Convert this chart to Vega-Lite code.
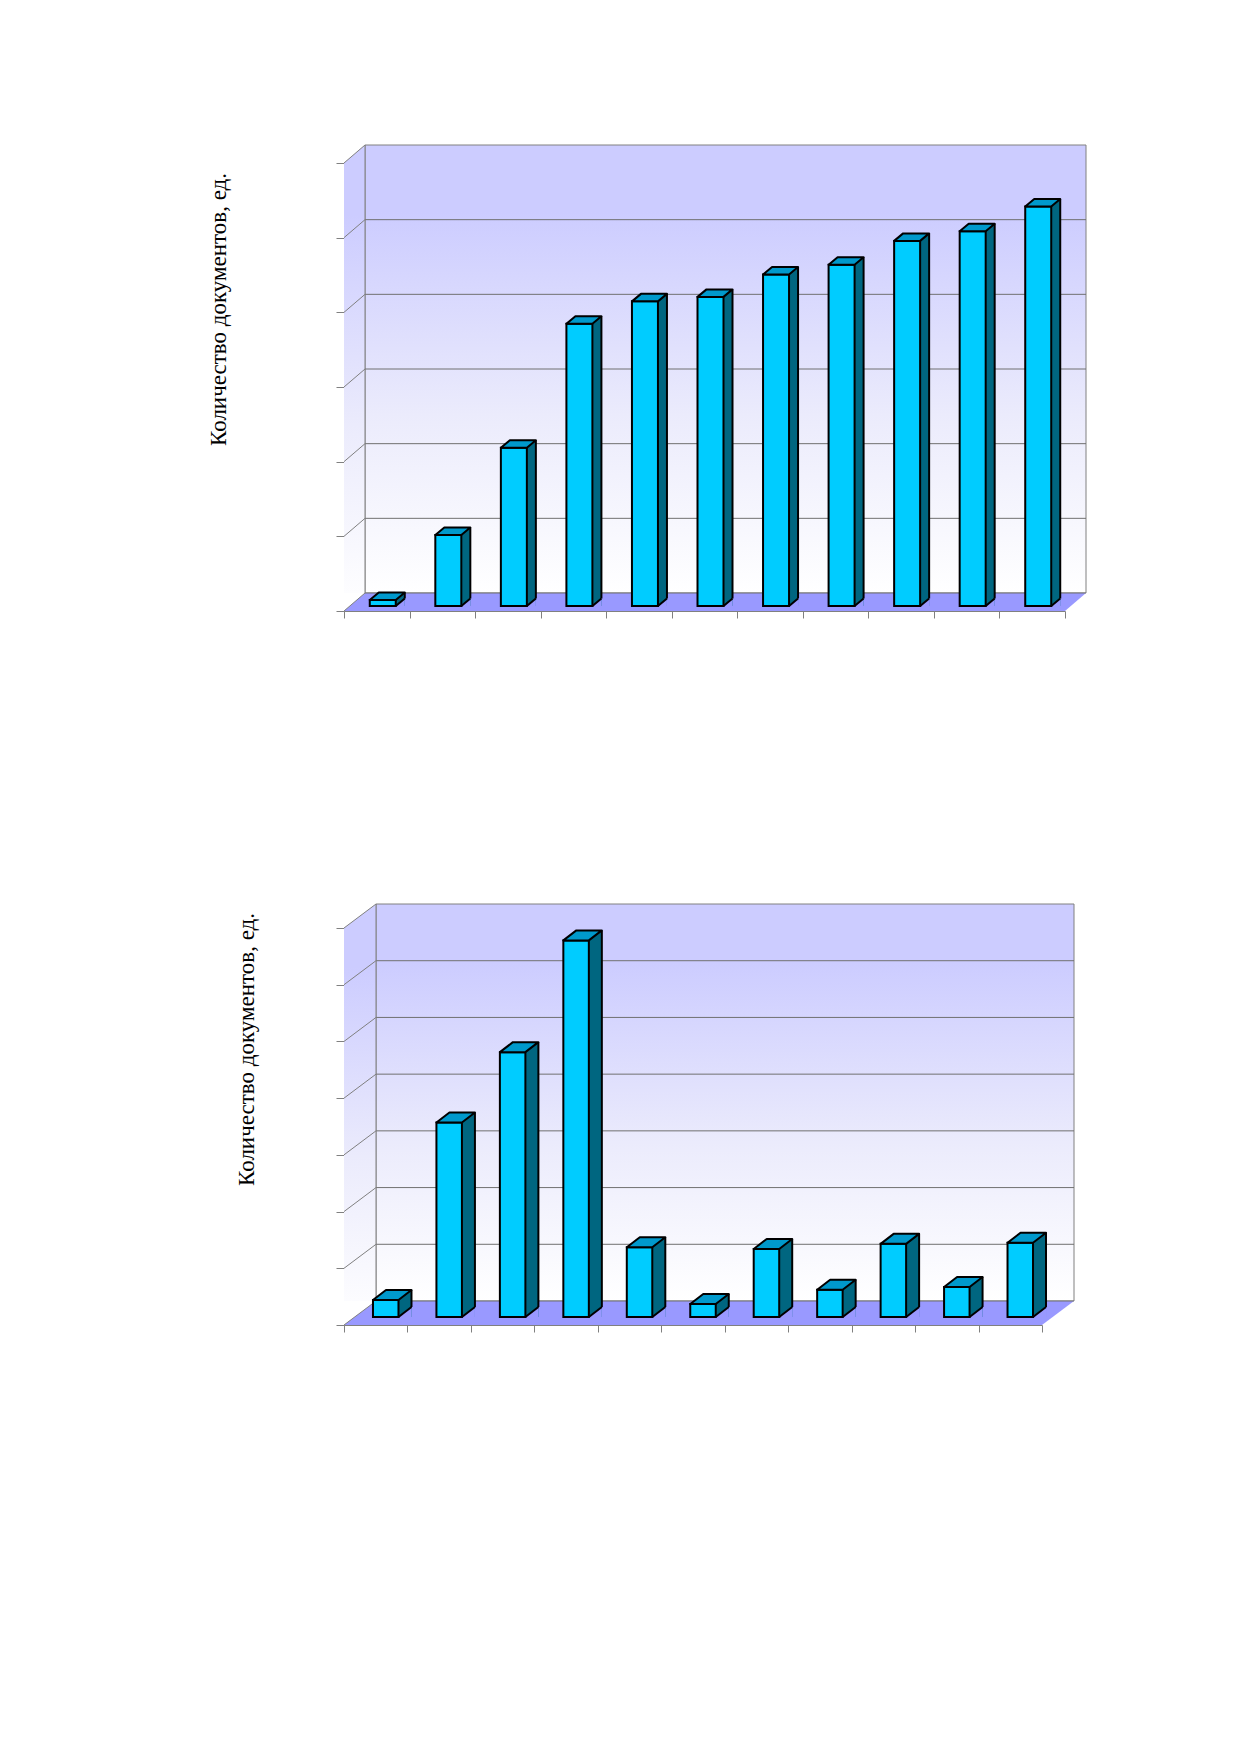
{
  "$schema": "https://vega.github.io/schema/vega-lite/v6.json",
  "padding": {"left": 207, "top": 144, "right": 5, "bottom": 5},
  "background": "white",
  "spacing": 317,
  "bounds": "flush",
  "config": {
    "view": {"stroke": null},
    "axis": {
      "domainColor": "#808080",
      "tickColor": "#808080",
      "labels": false,
      "grid": false,
      "zindex": 1
    }
  },
  "datasets": {
    "one": [{}],
    "bars1": [
      {"n": 1, "v": 8},
      {"n": 2, "v": 95},
      {"n": 3, "v": 212},
      {"n": 4, "v": 378},
      {"n": 5, "v": 408},
      {"n": 6, "v": 414},
      {"n": 7, "v": 444},
      {"n": 8, "v": 457},
      {"n": 9, "v": 489},
      {"n": 10, "v": 502},
      {"n": 11, "v": 535}
    ],
    "bars2": [
      {"n": 1, "v": 3.0},
      {"n": 2, "v": 34.3},
      {"n": 3, "v": 46.7},
      {"n": 4, "v": 66.4},
      {"n": 5, "v": 12.3},
      {"n": 6, "v": 2.3},
      {"n": 7, "v": 12.0},
      {"n": 8, "v": 4.8},
      {"n": 9, "v": 12.9},
      {"n": 10, "v": 5.3},
      {"n": 11, "v": 13.1}
    ],
    "grid1": [{"g": 0}, {"g": 100}, {"g": 200}, {"g": 300}, {"g": 400}, {"g": 500}, {"g": 600}],
    "grid2": [{"g": 0}, {"g": 10}, {"g": 20}, {"g": 30}, {"g": 40}, {"g": 50}, {"g": 60}, {"g": 70}]
  },
  "vconcat": [
    {
      "width": 721,
      "height": 448,
      "layer": [
        {
          "data": {"name": "one"},
          "mark": {
            "type": "rect",
            "fill": {"gradient": "linear", "x1": 0, "y1": 0, "x2": 0, "y2": 1,
              "stops": [{"offset": 0, "color": "#CCCCFF"}, {"offset": 0.15, "color": "#CCCCFF"}, {"offset": 0.6, "color": "#EBEBFC"}, {"offset": 1, "color": "#FFFFFF"}]},
            "stroke": "#808080", "strokeWidth": 1,
            "xOffset": 21, "x2Offset": 21, "yOffset": -18, "y2Offset": -18
          },
          "encoding": {
            "x": {"datum": 0.5, "type": "quantitative", "scale": {"domain": [0.5, 11.5], "nice": false, "zero": false}},
            "x2": {"datum": 11.5},
            "y": {"datum": 600, "type": "quantitative", "scale": {"domain": [0, 600], "nice": false}},
            "y2": {"datum": 0}
          }
        },
        {
          "data": {"name": "one"},
          "mark": {
            "type": "rect",
            "fill": {"gradient": "linear", "x1": 0, "y1": 0, "x2": 0, "y2": 1,
              "stops": [{"offset": 0, "color": "#CCCCFF"}, {"offset": 0.15, "color": "#CCCCFF"}, {"offset": 0.6, "color": "#EBEBFC"}, {"offset": 1, "color": "#FFFFFF"}]},
            "x2Offset": 21, "yOffset": -18
          },
          "encoding": {
            "x": {"datum": 0.5, "type": "quantitative"},
            "x2": {"datum": 0.5},
            "y": {"datum": 600, "type": "quantitative"},
            "y2": {"datum": 0}
          }
        },
        {
          "data": {"name": "one"},
          "mark": {"type": "rect", "fill": "#9999FF", "x2Offset": 21, "yOffset": -18},
          "encoding": {
            "x": {"datum": 0.5, "type": "quantitative"},
            "x2": {"datum": 11.5},
            "y": {"datum": 0, "type": "quantitative"},
            "y2": {"datum": 0}
          }
        },
        {
          "data": {"name": "one"},
          "mark": {"type": "point", "shape": "M0,0 L0,-18 L21,-18 Z", "size": 4, "filled": true, "color": "white", "opacity": 1, "strokeWidth": 0},
          "encoding": {
            "x": {"datum": 0.5, "type": "quantitative"},
            "y": {"datum": 600, "type": "quantitative"}
          }
        },
        {
          "data": {"name": "one"},
          "mark": {"type": "point", "shape": "M0,0 L0,-18 L21,-18 Z", "size": 4, "filled": true, "color": "white", "opacity": 1, "strokeWidth": 0},
          "encoding": {
            "x": {"datum": 0.5, "type": "quantitative"},
            "y": {"datum": 0, "type": "quantitative"}
          }
        },
        {
          "data": {"name": "one"},
          "mark": {"type": "point", "shape": "M0,0 L21,0 L21,-18 Z", "size": 4, "filled": true, "color": "white", "opacity": 1, "strokeWidth": 0},
          "encoding": {
            "x": {"datum": 11.5, "type": "quantitative"},
            "y": {"datum": 0, "type": "quantitative"}
          }
        },
        {
          "data": {"name": "grid1"},
          "transform": [{"filter": "datum.g < 600"}],
          "mark": {"type": "rule", "color": "#707070", "strokeWidth": 1, "xOffset": 21, "x2Offset": 21, "yOffset": -18},
          "encoding": {
            "x": {"datum": 0.5, "type": "quantitative"},
            "x2": {"datum": 11.5},
            "y": {"field": "g", "type": "quantitative"}
          }
        },
        {
          "data": {"name": "grid1"},
          "mark": {"type": "rule", "color": "#808080", "strokeWidth": 1, "x2Offset": 21, "y2Offset": -18},
          "encoding": {
            "x": {"datum": 0.5, "type": "quantitative"},
            "x2": {"datum": 0.5},
            "y": {"field": "g", "type": "quantitative"},
            "y2": {"field": "g"}
          }
        },
        {
          "data": {"name": "one"},
          "mark": {"type": "rule", "color": "#808080", "strokeWidth": 1, "xOffset": 21, "yOffset": -18, "y2Offset": -18},
          "encoding": {
            "x": {"datum": 0.5, "type": "quantitative"},
            "y": {"datum": 600, "type": "quantitative"},
            "y2": {"datum": 0}
          }
        },
        {
          "data": {"name": "bars1"},
          "mark": {"type": "rect", "fill": "#006680", "xOffset": 19, "x2Offset": 28, "yOffset": -12.5, "y2Offset": -5},
          "encoding": {
            "x": {"field": "n", "type": "quantitative"},
            "x2": {"field": "n"},
            "y": {"field": "v", "type": "quantitative"},
            "y2": {"datum": 0}
          }
        },
        {
          "data": {"name": "bars1"},
          "mark": {"type": "point", "shape": "M0,0 L9,0 L9,-7.5 Z", "size": 4, "filled": true, "color": "#9999FF", "opacity": 1, "strokeWidth": 0, "xOffset": 19, "yOffset": -5},
          "encoding": {
            "x": {"field": "n", "type": "quantitative"},
            "y": {"datum": 0, "type": "quantitative"}
          }
        },
        {
          "data": {"name": "bars1"},
          "mark": {"type": "rect", "fill": "#00CCFF", "stroke": "black", "strokeWidth": 2, "xOffset": -7, "x2Offset": 19, "yOffset": -5, "y2Offset": -5},
          "encoding": {
            "x": {
              "field": "n", "type": "quantitative",
              "axis": {"values": [0.5, 1.5, 2.5, 3.5, 4.5, 5.5, 6.5, 7.5, 8.5, 9.5, 10.5, 11.5], "tickSize": 7, "title": null}
            },
            "x2": {"field": "n"},
            "y": {
              "field": "v", "type": "quantitative",
              "axis": {
                "values": [0, 100, 200, 300, 400, 500, 600], "tickSize": 8,
                "title": "Количество документов, ед.",
                "titleFont": "Liberation Serif", "titleFontSize": 23, "titleFontWeight": "normal", "titleColor": "black",
                "titleAngle": 270, "titleAlign": "center", "titleBaseline": "alphabetic",
                "titleX": -119, "titleY": 146
              }
            },
            "y2": {"datum": 0}
          }
        },
        {
          "data": {"name": "bars1"},
          "mark": {"type": "point", "shape": "M-13,0 L-4,-7.5 L22,-7.5 L13,0 Z", "size": 4, "filled": true, "fill": "#0099CC", "stroke": "black", "strokeWidth": 2, "strokeJoin": "round", "opacity": 1, "xOffset": 6, "yOffset": -5},
          "encoding": {
            "x": {"field": "n", "type": "quantitative"},
            "y": {"field": "v", "type": "quantitative"}
          }
        },
        {
          "data": {"name": "bars1"},
          "mark": {"type": "rule", "color": "black", "strokeWidth": 2, "xOffset": 28, "yOffset": -12.5, "y2Offset": -12.5},
          "encoding": {
            "x": {"field": "n", "type": "quantitative"},
            "y": {"field": "v", "type": "quantitative"},
            "y2": {"datum": 0}
          }
        },
        {
          "data": {"name": "bars1"},
          "mark": {"type": "point", "shape": "M0,0 L9,-7.5", "size": 4, "filled": false, "stroke": "black", "strokeWidth": 2, "opacity": 1, "xOffset": 19, "yOffset": -5},
          "encoding": {
            "x": {"field": "n", "type": "quantitative"},
            "y": {"datum": 0, "type": "quantitative"}
          }
        }
      ]
    },
    {
      "width": 698,
      "height": 397,
      "layer": [
        {
          "data": {"name": "one"},
          "mark": {
            "type": "rect",
            "fill": {"gradient": "linear", "x1": 0, "y1": 0, "x2": 0, "y2": 1,
              "stops": [{"offset": 0, "color": "#CCCCFF"}, {"offset": 0.15, "color": "#CCCCFF"}, {"offset": 0.6, "color": "#EBEBFC"}, {"offset": 1, "color": "#FFFFFF"}]},
            "stroke": "#808080", "strokeWidth": 1,
            "xOffset": 32, "x2Offset": 32, "yOffset": -24, "y2Offset": -24
          },
          "encoding": {
            "x": {"datum": 0.5, "type": "quantitative", "scale": {"domain": [0.5, 11.5], "nice": false, "zero": false}},
            "x2": {"datum": 11.5},
            "y": {"datum": 70, "type": "quantitative", "scale": {"domain": [0, 70], "nice": false}},
            "y2": {"datum": 0}
          }
        },
        {
          "data": {"name": "one"},
          "mark": {
            "type": "rect",
            "fill": {"gradient": "linear", "x1": 0, "y1": 0, "x2": 0, "y2": 1,
              "stops": [{"offset": 0, "color": "#CCCCFF"}, {"offset": 0.15, "color": "#CCCCFF"}, {"offset": 0.6, "color": "#EBEBFC"}, {"offset": 1, "color": "#FFFFFF"}]},
            "x2Offset": 32, "yOffset": -24
          },
          "encoding": {
            "x": {"datum": 0.5, "type": "quantitative"},
            "x2": {"datum": 0.5},
            "y": {"datum": 70, "type": "quantitative"},
            "y2": {"datum": 0}
          }
        },
        {
          "data": {"name": "one"},
          "mark": {"type": "rect", "fill": "#9999FF", "x2Offset": 32, "yOffset": -24},
          "encoding": {
            "x": {"datum": 0.5, "type": "quantitative"},
            "x2": {"datum": 11.5},
            "y": {"datum": 0, "type": "quantitative"},
            "y2": {"datum": 0}
          }
        },
        {
          "data": {"name": "one"},
          "mark": {"type": "point", "shape": "M0,0 L0,-24 L32,-24 Z", "size": 4, "filled": true, "color": "white", "opacity": 1, "strokeWidth": 0},
          "encoding": {
            "x": {"datum": 0.5, "type": "quantitative"},
            "y": {"datum": 70, "type": "quantitative"}
          }
        },
        {
          "data": {"name": "one"},
          "mark": {"type": "point", "shape": "M0,0 L0,-24 L32,-24 Z", "size": 4, "filled": true, "color": "white", "opacity": 1, "strokeWidth": 0},
          "encoding": {
            "x": {"datum": 0.5, "type": "quantitative"},
            "y": {"datum": 0, "type": "quantitative"}
          }
        },
        {
          "data": {"name": "one"},
          "mark": {"type": "point", "shape": "M0,0 L32,0 L32,-24 Z", "size": 4, "filled": true, "color": "white", "opacity": 1, "strokeWidth": 0},
          "encoding": {
            "x": {"datum": 11.5, "type": "quantitative"},
            "y": {"datum": 0, "type": "quantitative"}
          }
        },
        {
          "data": {"name": "grid2"},
          "transform": [{"filter": "datum.g < 70"}],
          "mark": {"type": "rule", "color": "#707070", "strokeWidth": 1, "xOffset": 32, "x2Offset": 32, "yOffset": -24},
          "encoding": {
            "x": {"datum": 0.5, "type": "quantitative"},
            "x2": {"datum": 11.5},
            "y": {"field": "g", "type": "quantitative"}
          }
        },
        {
          "data": {"name": "grid2"},
          "mark": {"type": "rule", "color": "#808080", "strokeWidth": 1, "x2Offset": 32, "y2Offset": -24},
          "encoding": {
            "x": {"datum": 0.5, "type": "quantitative"},
            "x2": {"datum": 0.5},
            "y": {"field": "g", "type": "quantitative"},
            "y2": {"field": "g"}
          }
        },
        {
          "data": {"name": "one"},
          "mark": {"type": "rule", "color": "#808080", "strokeWidth": 1, "xOffset": 32, "yOffset": -24, "y2Offset": -24},
          "encoding": {
            "x": {"datum": 0.5, "type": "quantitative"},
            "y": {"datum": 70, "type": "quantitative"},
            "y2": {"datum": 0}
          }
        },
        {
          "data": {"name": "bars2"},
          "mark": {"type": "rect", "fill": "#006680", "xOffset": 22.75, "x2Offset": 35.75, "yOffset": -18, "y2Offset": -8},
          "encoding": {
            "x": {"field": "n", "type": "quantitative"},
            "x2": {"field": "n"},
            "y": {"field": "v", "type": "quantitative"},
            "y2": {"datum": 0}
          }
        },
        {
          "data": {"name": "bars2"},
          "mark": {"type": "point", "shape": "M0,0 L13,0 L13,-10 Z", "size": 4, "filled": true, "color": "#9999FF", "opacity": 1, "strokeWidth": 0, "xOffset": 22.75, "yOffset": -8},
          "encoding": {
            "x": {"field": "n", "type": "quantitative"},
            "y": {"datum": 0, "type": "quantitative"}
          }
        },
        {
          "data": {"name": "bars2"},
          "mark": {"type": "rect", "fill": "#00CCFF", "stroke": "black", "strokeWidth": 2, "xOffset": -2.75, "x2Offset": 22.75, "yOffset": -8, "y2Offset": -8},
          "encoding": {
            "x": {
              "field": "n", "type": "quantitative",
              "axis": {"values": [0.5, 1.5, 2.5, 3.5, 4.5, 5.5, 6.5, 7.5, 8.5, 9.5, 10.5, 11.5], "tickSize": 7, "title": null}
            },
            "x2": {"field": "n"},
            "y": {
              "field": "v", "type": "quantitative",
              "axis": {
                "values": [0, 10, 20, 30, 40, 50, 60, 70], "tickSize": 8,
                "title": "Количество документов, ед.",
                "titleFont": "Liberation Serif", "titleFontSize": 23, "titleFontWeight": "normal", "titleColor": "black",
                "titleAngle": 270, "titleAlign": "center", "titleBaseline": "alphabetic",
                "titleX": -91, "titleY": 121
              }
            },
            "y2": {"datum": 0}
          }
        },
        {
          "data": {"name": "bars2"},
          "mark": {"type": "point", "shape": "M-12.75,0 L0.25,-10 L25.75,-10 L12.75,0 Z", "size": 4, "filled": true, "fill": "#0099CC", "stroke": "black", "strokeWidth": 2, "strokeJoin": "round", "opacity": 1, "xOffset": 10, "yOffset": -8},
          "encoding": {
            "x": {"field": "n", "type": "quantitative"},
            "y": {"field": "v", "type": "quantitative"}
          }
        },
        {
          "data": {"name": "bars2"},
          "mark": {"type": "rule", "color": "black", "strokeWidth": 2, "xOffset": 35.75, "yOffset": -18, "y2Offset": -18},
          "encoding": {
            "x": {"field": "n", "type": "quantitative"},
            "y": {"field": "v", "type": "quantitative"},
            "y2": {"datum": 0}
          }
        },
        {
          "data": {"name": "bars2"},
          "mark": {"type": "point", "shape": "M0,0 L13,-10", "size": 4, "filled": false, "stroke": "black", "strokeWidth": 2, "opacity": 1, "xOffset": 22.75, "yOffset": -8},
          "encoding": {
            "x": {"field": "n", "type": "quantitative"},
            "y": {"datum": 0, "type": "quantitative"}
          }
        }
      ]
    }
  ]
}
